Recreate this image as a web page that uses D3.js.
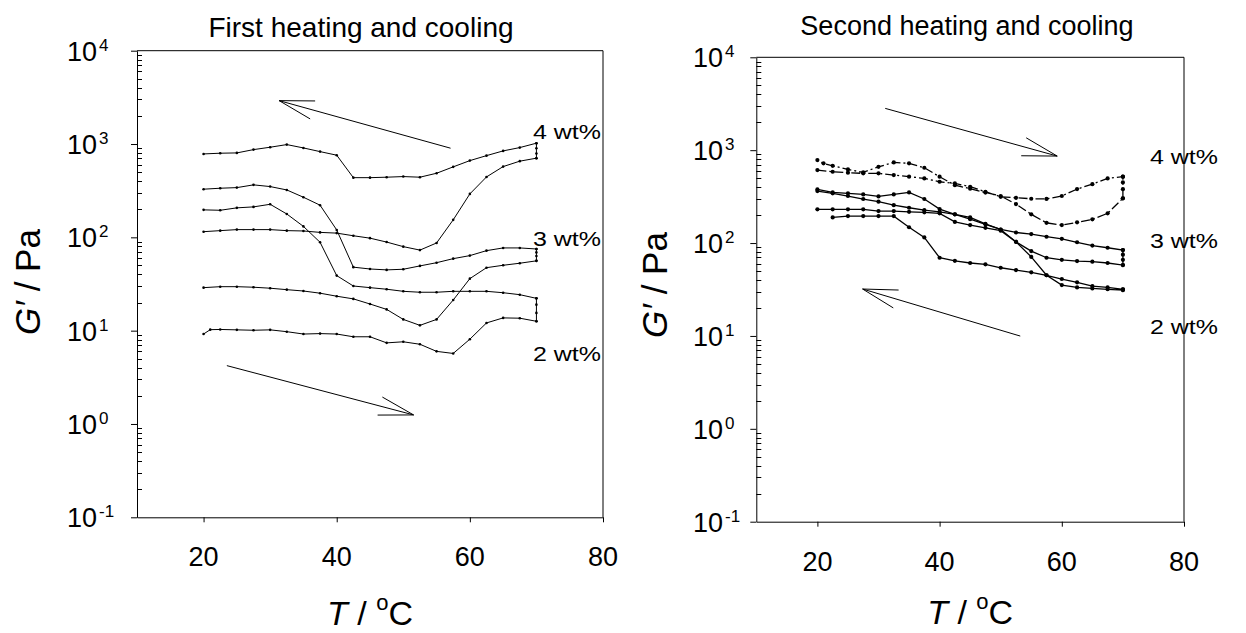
<!DOCTYPE html>
<html>
<head>
<meta charset="utf-8">
<script src="https://cdn.jsdelivr.net/npm/d3@7"></script>
<style>
  body { margin: 0; background: #fff; }
  text { font-family: Arial, "Liberation Sans", sans-serif; fill: #000; }
</style>
</head>
<body>
<svg id="chart" width="1246" height="633"></svg>
<script>
// temperatures of the heating ramp and of the cooling ramp (degC)
const tempUp = [20, 22.5, 25, 27.5, 30, 32.5, 35, 37.5, 40, 42.5, 45, 47.5, 50, 52.5, 55, 57.5, 60, 62.5, 65, 67.5, 70]
const tempUpExtra = [20, 21, 22.5, 25, 27.5, 30, 32.5, 35, 37.5, 40, 42.5, 45, 47.5, 50, 52.5, 55, 57.5, 60, 62.5, 65, 67.5, 70]
const tempDown = [70, 67.5, 65, 62.5, 60, 57.5, 55, 52.5, 50, 47.5, 45, 42.5, 40, 37.5, 35, 32.5, 30, 27.5, 25, 22.5, 20]
const tempDownExtra = [70, 67.5, 65, 62.5, 60, 57.5, 55, 52.5, 50, 47.5, 45, 42.5, 40, 37.5, 35, 32.5, 30, 27.5, 25, 22.5, 21, 20]
const holdTemp = 70

const xTicks = [20, 40, 60, 80]
const yTicks = [0.1, 1, 10, 100, 1000, 10000]
const yExps = ['-1', '0', '1', '2', '3', '4']
const concLabels = ['4 wt%', '3 wt%', '2 wt%']

// G' (Pa), first heating and cooling
const first2Heat = [9.2, 10.25, 10.3, 10.2, 10.1, 10.2, 9.75, 9.2, 9.3, 9.2, 8.6, 8.6, 7.4, 7.6, 7.15, 6.0, 5.7, 8.1, 12.1, 13.7, 13.6, 12.6]
const first2Hold = [12.6, 15.5, 19, 22.2]
const first2Cool = [22.2, 24.3, 25.5, 26.4, 26.4, 26.4, 25.8, 25.8, 26.4, 27.8, 28.9, 30.1, 38.9, 88.5, 131, 178, 226, 212, 207, 195, 197]
const first3Heat = [28.9, 29.6, 29.6, 29.2, 28.5, 27.5, 26.6, 25.2, 23.4, 21.9, 19.3, 16.9, 13.2, 11.4, 13.2, 21.3, 36.1, 47.3, 50.2, 52.8, 56]
const first3Hold = [56, 63, 69, 75]
const first3Cool = [75, 77, 77, 72, 63.7, 59.1, 53.5, 49.4, 45.5, 44.8, 45.8, 47.9, 120, 221, 269, 322, 350, 365, 341, 336, 328]
const first4Heat = [115, 118, 121, 121, 121, 118, 117, 113, 111, 104, 98, 89, 79.5, 73, 87, 154, 292, 444, 573, 655, 705]
const first4Hold = [705, 790, 900, 1021]
const first4Cool = [1021, 916, 844, 751, 664, 569, 486, 441, 448, 441, 436, 436, 759, 829, 908, 986, 924, 871, 803, 797, 783]

// G' (Pa), second heating and cooling
const second2Heat = [363, 343, 321, 298, 279, 256, 240, 226, 217, 204, 189, 161, 140, 103, 71, 45, 35.3, 33.3, 32.5, 31.8, 31.2]
const second2Hold = [31.2, 31.8]
const second2Cool = [31.8, 33.3, 34.4, 37.8, 41, 45, 48.4, 51.2, 54.2, 59, 61, 64.4, 69.5, 115, 148, 195, 195, 195, 195, 189]
const second3Heat = [378, 351, 343, 334, 318, 334, 351, 298, 232, 204, 181, 159, 140, 130, 125, 117, 111, 102, 94, 89, 84]
const second3Hold = [84, 75, 66, 58]
const second3Cool = [58, 61, 63, 64, 66, 69.5, 82, 103, 136, 146, 156, 169, 209, 214, 217, 221, 221, 231, 231, 231, 231]
const second4Heat = [611, 586, 572, 563, 563, 540, 518, 497, 457, 439, 404, 357, 315, 307, 300, 299, 321, 381, 431, 497, 518]
const second4Hold = [518, 450, 380, 303]
const second4Cool = [303, 209, 180, 167, 156, 165, 204, 263, 321, 350, 385, 420, 518, 647, 721, 739, 662, 577, 621, 679, 721, 782]

// direction arrows [tailT, tailG, tipT, tipG]
const firstArrows = [[57.1, 902, 31.35, 2917], [23.5, 4.22, 51.55, 1.25]]
const secondArrows = [[31.1, 2818, 59.25, 864], [53.2, 9.97, 27.4, 32]]

const svg = d3.select('#chart')

// each loop: heating values, heating temps, hold values, cooling values, cooling temps, dash-dot?
const panels = [
  {title: 'First heating and cooling', titleX: 361, titleY: 37, titleSize: 28, left: 137, right: 603, top: 50.7, bottom: 517.3,
   labelX: 67, yTitleX: 40, yTitleY: 282, xTitleY: 625, r: 1.3, sw: 1,
   loops: [[first4Heat, tempUp, first4Hold, first4Cool, tempDown, false],
           [first3Heat, tempUp, first3Hold, first3Cool, tempDown, false],
           [first2Heat, tempUpExtra, first2Hold, first2Cool, tempDown, false]],
   arrows: firstArrows, concX: 533, concY: [139, 246, 361]},
  {title: 'Second heating and cooling', titleX: 967, titleY: 35, titleSize: 27, left: 756.3, right: 1184, top: 57.3, bottom: 521.7,
   labelX: 693, yTitleX: 667, yTitleY: 285, xTitleY: 624, r: 2.1, sw: 1.3,
   loops: [[second4Heat, tempUp, second4Hold, second4Cool, tempDownExtra, true],
           [second3Heat, tempUp, second3Hold, second3Cool, tempDown, false],
           [second2Heat, tempUp, second2Hold, second2Cool, tempDown, false]],
   arrows: secondArrows, concX: 1150, concY: [164, 248, 334]}
]

const drawPanel = p => {
  const x = d3.scaleLinear().domain([10, 80]).range([p.left, p.right])
  const y = d3.scaleLog().domain([0.1, 10000]).range([p.bottom, p.top])
  const g = svg.append('g')

  // frame on top and right
  g.append('path')
    .attr('d', `M${p.left},${p.top}H${p.right}V${p.bottom}`)
    .attr('fill', 'none').attr('stroke', '#000').attr('stroke-width', 1)

  // x axis
  const xAxis = g.append('g')
    .attr('transform', `translate(0,${p.bottom})`)
    .call(d3.axisBottom(x).tickValues(xTicks).tickSize(5).tickSizeOuter(0).tickFormat(''))
  xAxis.selectAll('path, line').attr('stroke', '#000').attr('stroke-width', 1)
  xTicks.forEach(v => {
    g.append('text').attr('x', x(v)).attr('y', p.bottom + 49)
      .attr('text-anchor', 'middle').style('font-size', '27px').text(v)
  })

  // y axis, major ticks outward
  const yAxis = g.append('g')
    .attr('transform', `translate(${p.left},0)`)
    .call(d3.axisLeft(y).tickValues(yTicks).tickSize(6).tickSizeOuter(0).tickFormat(''))
  yAxis.selectAll('path, line').attr('stroke', '#000').attr('stroke-width', 1)

  // minor ticks point inward
  const minor = []
  yTicks.slice(0, -1).forEach(d => { for (let k = 2; k < 10; k++) minor.push(d * k) })
  g.append('g').selectAll('line').data(minor).join('line')
    .attr('x1', p.left).attr('x2', p.left + 5)
    .attr('y1', d => Math.round(y(d)) + 0.5).attr('y2', d => Math.round(y(d)) + 0.5)
    .attr('stroke', '#000').attr('stroke-width', 1)

  yTicks.forEach((v, i) => {
    const t = g.append('text').attr('x', p.labelX).attr('y', y(v) + 10).style('font-size', '27px')
    t.append('tspan').text('10')
    t.append('tspan').attr('dx', 2).attr('dy', -10).style('font-size', '17px').text(yExps[i])
  })

  // titles
  g.append('text').attr('x', p.titleX).attr('y', p.titleY).attr('text-anchor', 'middle')
    .style('font-size', p.titleSize + 'px').text(p.title)

  const yt = g.append('text')
    .attr('transform', `translate(${p.yTitleX},${p.yTitleY}) rotate(-90)`)
    .attr('text-anchor', 'middle').style('font-size', '35px')
  yt.append('tspan').style('font-style', 'italic').text('G\u2032')
  yt.append('tspan').text(' / Pa')

  const xt = g.append('text').attr('x', (p.left + p.right) / 2).attr('y', p.xTitleY)
    .attr('text-anchor', 'middle').style('font-size', '34px')
  xt.append('tspan').style('font-style', 'italic').text('T')
  xt.append('tspan').text(' / ')
  xt.append('tspan').attr('dy', -15).style('font-size', '22px').text('o')
  xt.append('tspan').attr('dy', 15).text('C')

  // data loops: heating, hold at 70 degC, cooling
  const line = d3.line().x(d => x(d[0])).y(d => y(d[1]))
  p.loops.forEach(([heat, heatT, hold, cool, coolT, dashed]) => {
    const pts = heat.map((v, i) => [heatT[i], v])
      .concat(hold.map(v => [holdTemp, v]))
      .concat(cool.map((v, i) => [coolT[i], v]))
    g.append('path').datum(pts).attr('d', line)
      .attr('fill', 'none').attr('stroke', '#000').attr('stroke-width', p.sw)
      .attr('stroke-dasharray', dashed ? '9,3,2,3' : null)
    g.append('g').selectAll('circle').data(pts).join('circle')
      .attr('cx', d => x(d[0])).attr('cy', d => y(d[1])).attr('r', p.r).attr('fill', '#000')
  })

  // arrows
  p.arrows.forEach(([t0, g0, t1, g1]) => {
    const x0 = x(t0), y0 = y(g0), x1 = x(t1), y1 = y(g1)
    const ang = Math.atan2(y0 - y1, x0 - x1)
    const len = 36, spread = 15 * Math.PI / 180
    const b1 = [x1 + len * Math.cos(ang - spread), y1 + len * Math.sin(ang - spread)]
    const b2 = [x1 + len * Math.cos(ang + spread), y1 + len * Math.sin(ang + spread)]
    g.append('path')
      .attr('d', `M${x0},${y0}L${x1},${y1}M${b1[0]},${b1[1]}L${x1},${y1}L${b2[0]},${b2[1]}`)
      .attr('fill', 'none').attr('stroke', '#000').attr('stroke-width', 1)
  })

  // concentration labels
  concLabels.forEach((s, i) => {
    g.append('text').attr('x', p.concX).attr('y', p.concY[i]).style('font-size', '21px')
      .attr('textLength', 68).attr('lengthAdjust', 'spacingAndGlyphs').text(s)
  })
}

panels.forEach(drawPanel)
</script>
</body>
</html>
